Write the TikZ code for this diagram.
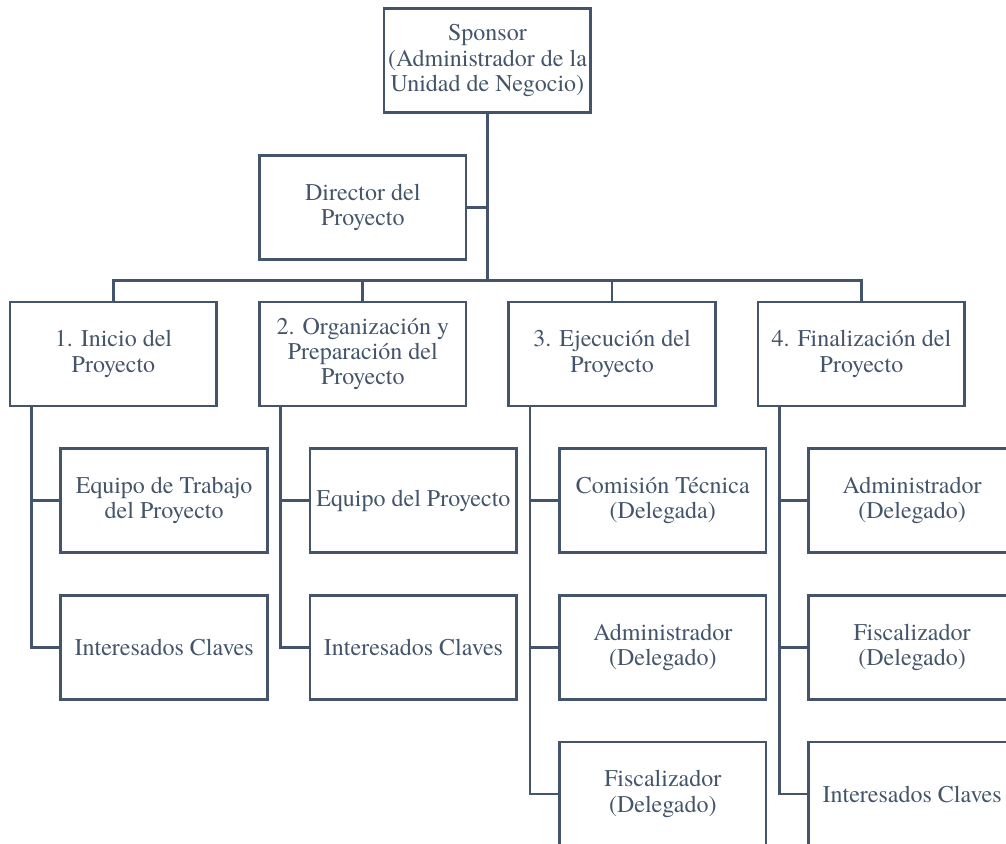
\documentclass[tikz,border=0pt]{standalone}
\usepackage{fontspec}
\setmainfont{texgyretermes}[Extension=.otf,UprightFont=*-regular,BoldFont=*-bold]
\usetikzlibrary{positioning,calc}
\definecolor{slate}{HTML}{44546A}

\begin{document}
\begin{tikzpicture}[box/.style={draw=slate,line width=2pt,text=slate,outer sep=0pt,inner sep=2pt,minimum width=155pt,minimum height=78pt,font=\fontsize{18}{19}\selectfont},
		link/.style={draw=slate,line width=2pt},node distance=32pt,align=center]
				\useasboundingbox (0,0) rectangle (754.5pt,-632.25pt);
				\clip (0,0) rectangle (754.5pt,-632.25pt);
				% fases
				\node[box] (p_1) at (85.1pt,-265.5pt) {1. Inicio del\\Proyecto};
				\node[box] [right=of p_1] (p_2) {2. Organización y\\Preparación del\\Proyecto};
				\node[box] [right=of p_2] (p_3) {3. Ejecución del\\Proyecto};
				\node[box] [right=of p_3] (p_4) {4. Finalización del\\Proyecto};
				% direccion
				\node[box] [above=of p_2] (dir) {Director del\\Proyecto};
				\node[box] [above=of dir,xshift=93.5pt] (spon) {Sponsor\\(Administrador de la\\Unidad de Negocio)};
				% roles por fase
				\node[box] [below=of p_1,xshift=38pt] (r_11) {Equipo de Trabajo\\del Proyecto};
				\node[box] [below=of r_11] (r_12) {Interesados Claves};
				\node[box] [below=of p_2,xshift=38pt] (r_21) {Equipo del Proyecto};
				\node[box] [below=of r_21] (r_22) {Interesados Claves};
				\node[box] [below=of p_3,xshift=38pt] (r_31) {Comisión Técnica\\(Delegada)};
				\node[box] [below=of r_31] (r_32) {Administrador\\(Delegado)};
				\node[box] [below=of r_32] (r_33) {Fiscalizador\\(Delegado)};
				\node[box] [below=of p_4,xshift=38pt] (r_41) {Administrador\\(Delegado)};
				\node[box] [below=of r_41] (r_42) {Fiscalizador\\(Delegado)};
				\node[box] [below=of r_42] (r_43) {Interesados Claves};
				% conectores
				\coordinate (bus) at ($(dir.south)!0.5!(p_2.north)$);
				\draw[link] (spon.south) -- (spon.south |- bus);
				\draw[link] (dir.east) -- (dir.east -| spon.south);
				\draw[link] (p_1.north) |- (bus -| p_4.north) -- (p_4.north);
				\draw[link] (p_2.north) -- (p_2.north |- bus);
				\draw[link] (p_3.north) -- (p_3.north |- bus);
				\coordinate (t_1) at ($(p_1.south west)+(16pt,0)$);
				\coordinate (t_2) at ($(p_2.south west)+(16pt,0)$);
				\coordinate (t_3) at ($(p_3.south west)+(16pt,0)$);
				\coordinate (t_4) at ($(p_4.south west)+(16pt,0)$);
				\draw[link] (t_1) |- (r_12.west);
				\draw[link] (t_1 |- r_11.west) -- (r_11.west);
				\draw[link] (t_2) |- (r_22.west);
				\draw[link] (t_2 |- r_21.west) -- (r_21.west);
				\draw[link] (t_3) |- (r_33.west);
				\draw[link] (t_3 |- r_31.west) -- (r_31.west);
				\draw[link] (t_3 |- r_32.west) -- (r_32.west);
				\draw[link] (t_4) |- (r_43.west);
				\draw[link] (t_4 |- r_41.west) -- (r_41.west);
				\draw[link] (t_4 |- r_42.west) -- (r_42.west);
			\end{tikzpicture}
\end{document}
